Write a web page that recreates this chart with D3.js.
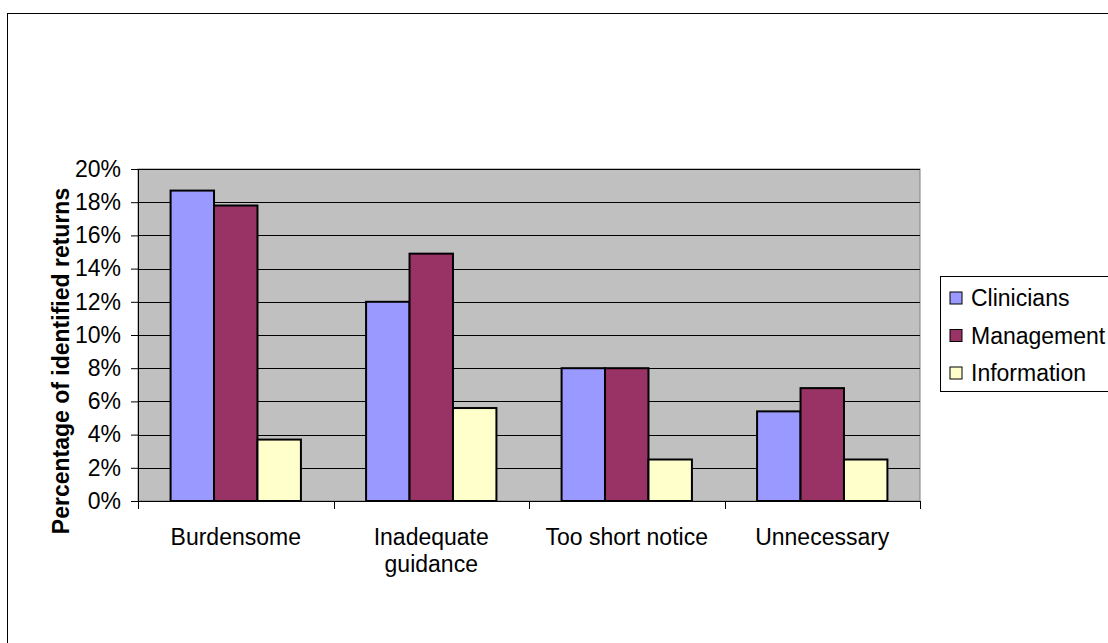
<!DOCTYPE html>
<html>
<head>
<meta charset="utf-8">
<script src="https://cdn.jsdelivr.net/npm/d3@7"></script>
<style>
  html, body { margin: 0; padding: 0; background: #fff; overflow: hidden; }
  svg { display: block; font-family: "Liberation Sans", Arial, sans-serif; }
</style>
</head>
<body>
<div id="chart"></div>
<script>
const categories = ['Burdensome', 'Inadequate guidance', 'Too short notice', 'Unnecessary'];
const seriesNames = ['Clinicians', 'Management', 'Information'];
const seriesColors = ['#9999FF', '#993366', '#FFFFCC'];
const clinicians = [0.187, 0.120, 0.080, 0.054];
const management = [0.178, 0.149, 0.080, 0.068];
const information = [0.037, 0.056, 0.025, 0.025];
const yTicks = [0, 0.02, 0.04, 0.06, 0.08, 0.10, 0.12, 0.14, 0.16, 0.18, 0.20];
const yTitle = 'Percentage of identified returns';

const W = 1108, H = 643;
const plot = { left: 138, right: 920, top: 169, bottom: 501 };
const values = [clinicians, management, information];

const svg = d3.select('#chart').append('svg').attr('width', W).attr('height', H);

// chart area border (runs off the right and bottom)
svg.append('rect').attr('x', 7.5).attr('y', 13.5).attr('width', 1130).attr('height', 660)
  .attr('fill', 'none').attr('stroke', '#000').attr('stroke-width', 1);

const x = d3.scaleBand().domain(categories).range([plot.left, plot.right]);
const bw = x.bandwidth();
const xs = d3.scaleBand().domain(seriesNames).range([bw / 6, bw * 5 / 6]);
const y = d3.scaleLinear().domain([0, 0.2]).range([plot.bottom, plot.top]);

svg.append('rect').attr('x', plot.left).attr('y', plot.top)
  .attr('width', plot.right - plot.left).attr('height', plot.bottom - plot.top)
  .attr('fill', '#C0C0C0').attr('stroke', '#808080').attr('stroke-width', 1);

// gridlines
svg.append('g').selectAll('line').data(yTicks.filter(d => d > 0)).join('line')
  .attr('x1', plot.left).attr('x2', plot.right)
  .attr('y1', d => Math.round(y(d)) + 0.5).attr('y2', d => Math.round(y(d)) + 0.5)
  .attr('stroke', '#000').attr('stroke-width', 1);

// bars
seriesNames.forEach((s, si) => {
  svg.append('g').selectAll('rect').data(values[si]).join('rect')
    .attr('x', (d, i) => x(categories[i]) + xs(s))
    .attr('y', d => y(d))
    .attr('width', xs.bandwidth())
    .attr('height', d => plot.bottom - y(d))
    .attr('fill', seriesColors[si])
    .attr('stroke', '#000').attr('stroke-width', 2);
});

// y axis
const yAxis = d3.axisLeft(y).tickValues(yTicks).tickFormat(d3.format('.0%')).tickSizeOuter(0).tickSize(7).tickPadding(10);
const yg = svg.append('g').attr('transform', `translate(${plot.left},0)`).call(yAxis);
yg.select('.domain').attr('stroke', '#000');
yg.selectAll('.tick line').attr('stroke', '#000');
yg.selectAll('.tick text').attr('fill', '#000').style('font-size', '23px')
  .attr('font-family', '"Liberation Sans", Arial, sans-serif');

// x axis
svg.append('line').attr('x1', plot.left).attr('x2', plot.right)
  .attr('y1', plot.bottom + 0.5).attr('y2', plot.bottom + 0.5).attr('stroke', '#000');
const bounds = categories.map(c => x(c)).concat([plot.right]);
svg.append('g').selectAll('line').data(bounds).join('line')
  .attr('x1', d => Math.round(d) + 0.5).attr('x2', d => Math.round(d) + 0.5)
  .attr('y1', plot.bottom).attr('y2', plot.bottom + 8).attr('stroke', '#000');

// category labels with wrapping
const labels = svg.append('g').selectAll('text').data(categories).join('text')
  .attr('text-anchor', 'middle').style('font-size', '23px').attr('fill', '#000')
  .attr('transform', d => `translate(${x(d) + bw / 2},${plot.bottom + 44})`);
labels.each(function (d) {
  const t = d3.select(this);
  const words = d.split(' ');
  let line = [];
  let ts = t.append('tspan').attr('x', 0).attr('dy', 0);
  words.forEach(w => {
    line.push(w);
    ts.text(line.join(' '));
    if (ts.node().getComputedTextLength() > 180 && line.length > 1) {
      line.pop();
      ts.text(line.join(' '));
      line = [w];
      ts = t.append('tspan').attr('x', 0).attr('dy', 27).text(w);
    }
  });
});

// y title
svg.append('text')
  .attr('transform', `translate(69,${(plot.top + plot.bottom) / 2 + 26}) rotate(-90)`)
  .attr('text-anchor', 'middle').style('font-size', '23px').style('font-weight', 'bold')
  .attr('fill', '#000').text(yTitle);

// legend
const lg = svg.append('g');
lg.append('rect').attr('x', 940.5).attr('y', 276.5).attr('width', 200).attr('height', 115)
  .attr('fill', '#fff').attr('stroke', '#000').attr('stroke-width', 1);
const ly = d3.scalePoint().domain(seriesNames).range([298, 373]);
const items = lg.selectAll('g').data(seriesNames).join('g')
  .attr('transform', d => `translate(950,${ly(d)})`);
items.append('rect').attr('x', 0).attr('y', -6).attr('width', 12).attr('height', 12)
  .attr('fill', (d, i) => seriesColors[i]).attr('stroke', '#000').attr('stroke-width', 1);
items.append('text').attr('x', 21).attr('y', 8).style('font-size', '23px').attr('fill', '#000').text(d => d);
</script>
</body>
</html>
